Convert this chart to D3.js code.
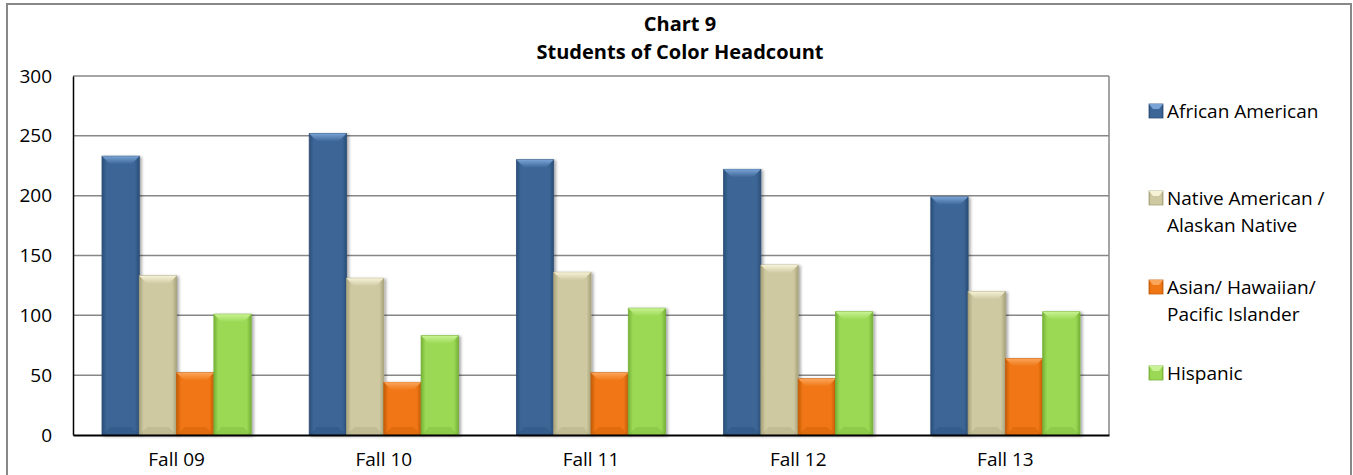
<!DOCTYPE html>
<html>
<head>
<meta charset="utf-8">
<script src="https://cdn.jsdelivr.net/npm/d3@7"></script>
<style>
  body { margin: 0; background: #fff; }
  svg text { font-family: "Open Sans", "Liberation Sans", sans-serif; fill: #000; }
</style>
</head>
<body>
<script>
const categories = ['Fall 09', 'Fall 10', 'Fall 11', 'Fall 12', 'Fall 13'];
const seriesNames = ['African American', 'Native American / Alaskan Native', 'Asian/ Hawaiian/ Pacific Islander', 'Hispanic'];
const legendLines = [['African American'], ['Native American /', 'Alaskan Native'], ['Asian/ Hawaiian/', 'Pacific Islander'], ['Hispanic']];
const africanAmerican = [233, 252, 230, 222, 199];
const nativeAmerican = [133, 131, 136, 142, 120];
const asianPacific = [52, 44, 52, 47, 64];
const hispanic = [101, 83, 106, 103, 103];
const yTicks = [0, 50, 100, 150, 200, 250, 300];

const seriesValues = [africanAmerican, nativeAmerican, asianPacific, hispanic];
const colors = [
  {main: '#3c6696', light: '#7aa3d6', dark: '#2b4e78'},
  {main: '#cfc9a2', light: '#f6f2d6', dark: '#a9a37c'},
  {main: '#f07614', light: '#fba55a', dark: '#c45c08'},
  {main: '#9bd955', light: '#c8f293', dark: '#76b238'}
];

const W = 1353, H = 475;
const plot = {left: 73, right: 1109, top: 76, bottom: 435};
const fontSize = 19;

const svg = d3.select('body').append('svg')
  .attr('width', W)
  .attr('height', H);

const defs = svg.append('defs');
colors.forEach((c, i) => {
  const g = defs.append('linearGradient').attr('id', 'grad' + i)
    .attr('x1', 0).attr('x2', 1).attr('y1', 0).attr('y2', 0);
  g.append('stop').attr('offset', '0%').attr('stop-color', c.dark);
  g.append('stop').attr('offset', '12%').attr('stop-color', c.main);
  g.append('stop').attr('offset', '88%').attr('stop-color', c.main);
  g.append('stop').attr('offset', '100%').attr('stop-color', c.dark);
  const t = defs.append('linearGradient').attr('id', 'top' + i)
    .attr('x1', 0).attr('x2', 0).attr('y1', 0).attr('y2', 1);
  t.append('stop').attr('offset', '0%').attr('stop-color', c.light);
  t.append('stop').attr('offset', '100%').attr('stop-color', c.main);
});
const shadow = defs.append('filter').attr('id', 'shadow')
  .attr('x', '-20%').attr('y', '-5%').attr('width', '150%').attr('height', '115%');
shadow.append('feDropShadow').attr('dx', 2).attr('dy', 1).attr('stdDeviation', 1.5)
  .attr('flood-color', '#000').attr('flood-opacity', 0.35);

// outer border
svg.append('rect')
  .attr('x', 7).attr('y', 4)
  .attr('width', 1344).attr('height', 480)
  .attr('fill', 'none').attr('stroke', '#888').attr('stroke-width', 2);

// title
svg.append('text').attr('x', 680).attr('y', 31)
  .attr('text-anchor', 'middle').attr('font-weight', 'bold').attr('font-size', 20)
  .text('Chart 9');
svg.append('text').attr('x', 680).attr('y', 59)
  .attr('text-anchor', 'middle').attr('font-weight', 'bold').attr('font-size', 20)
  .text('Students of Color Headcount');

const y = d3.scaleLinear().domain([0, 300]).range([plot.bottom, plot.top]);
const x0 = d3.scaleBand().domain(categories).range([plot.left, plot.right])
  .paddingInner(0.28).paddingOuter(0.14);
const x1 = d3.scaleBand().domain(d3.range(seriesNames.length)).range([0, x0.bandwidth()]);

// grid
svg.append('g')
  .selectAll('line')
  .data(yTicks.filter(d => d > 0))
  .join('line')
  .attr('x1', plot.left).attr('x2', plot.right)
  .attr('y1', d => y(d)).attr('y2', d => y(d))
  .attr('stroke', '#878787').attr('stroke-width', 1.5);

svg.append('line')
  .attr('x1', plot.right).attr('x2', plot.right)
  .attr('y1', plot.top).attr('y2', plot.bottom)
  .attr('stroke', '#878787').attr('stroke-width', 1.5);

// bars
const bev = 8;
const groups = svg.append('g').selectAll('g')
  .data(categories)
  .join('g')
  .attr('transform', d => `translate(${x0(d)},0)`);

const bars = groups.selectAll('g')
  .data((d, ci) => seriesValues.map((vals, si) => ({si, v: vals[ci]})))
  .join('g')
  .attr('filter', 'url(#shadow)');

bars.append('rect')
  .attr('x', d => x1(d.si))
  .attr('y', d => y(d.v))
  .attr('width', x1.bandwidth())
  .attr('height', d => y(0) - y(d.v))
  .attr('fill', d => `url(#grad${d.si})`)
  .attr('stroke', d => colors[d.si].dark)
  .attr('stroke-width', 0.8);

bars.append('path')
  .attr('d', d => {
    const l = x1(d.si), r = l + x1.bandwidth(), t = y(d.v);
    return `M${l},${t}L${r},${t}L${r - bev},${t + bev}L${l + bev},${t + bev}Z`;
  })
  .attr('fill', d => `url(#top${d.si})`);

bars.append('path')
  .attr('d', d => {
    const l = x1(d.si), r = l + x1.bandwidth(), b = y(0);
    return `M${l},${b}L${r},${b}L${r - bev},${b - bev}L${l + bev},${b - bev}Z`;
  })
  .attr('fill', d => colors[d.si].dark)
  .attr('opacity', 0.35);

// axes
const yAxis = svg.append('g')
  .attr('transform', `translate(${plot.left},0)`)
  .call(d3.axisLeft(y).tickValues(yTicks).tickSize(0).tickPadding(21));
yAxis.select('.domain').attr('stroke', '#000').attr('stroke-width', 1.5);
yAxis.selectAll('text').attr('font-size', fontSize).attr('font-family', '"Open Sans", sans-serif').attr('fill', '#000');

const xAxis = svg.append('g')
  .attr('transform', `translate(0,${plot.bottom})`)
  .call(d3.axisBottom(x0).tickSize(0).tickPadding(18));
xAxis.select('.domain').attr('stroke', '#000').attr('stroke-width', 2);
xAxis.selectAll('text').attr('font-size', fontSize).attr('font-family', '"Open Sans", sans-serif').attr('fill', '#000');

// legend
const legendY = [111, 198, 287, 373];
const legend = svg.append('g').selectAll('g')
  .data(legendLines)
  .join('g')
  .attr('transform', (d, i) => `translate(1149,${legendY[i]})`);

legend.append('rect')
  .attr('x', 0).attr('y', -7).attr('width', 14).attr('height', 14)
  .attr('fill', (d, i) => `url(#grad${i})`)
  .attr('stroke', (d, i) => colors[i].dark).attr('stroke-width', 0.8);
legend.append('path')
  .attr('d', 'M0,-7L14,-7L10,-2L4,-2Z')
  .attr('fill', (d, i) => colors[i].light);

legend.each(function (lines) {
  d3.select(this).selectAll('text')
    .data(lines)
    .join('text')
    .attr('x', 18)
    .attr('y', (d, j) => j * 27)
    .attr('dy', '0.35em')
    .attr('font-size', fontSize)
    .text(d => d);
});
</script>
</body>
</html>
